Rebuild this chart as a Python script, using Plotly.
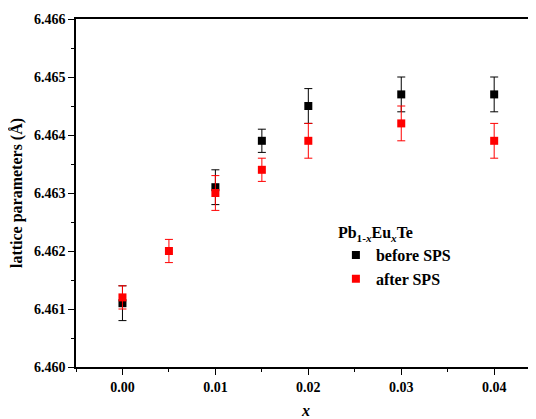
import plotly.graph_objects as go

# Composition x for each series
x_before = [0.000, 0.010, 0.015, 0.020, 0.030, 0.040]
a_before = [6.4611, 6.4631, 6.4639, 6.4645, 6.4647, 6.4647]
err_before = [0.0003, 0.0003, 0.0002, 0.0003, 0.0003, 0.0003]

x_after = [0.000, 0.005, 0.010, 0.015, 0.020, 0.030, 0.040]
a_after = [6.4612, 6.4620, 6.4630, 6.4634, 6.4639, 6.4642, 6.4639]
err_after = [0.0002, 0.0002, 0.0003, 0.0002, 0.0003, 0.0003, 0.0003]

y_ticks = [6.460, 6.461, 6.462, 6.463, 6.464, 6.465, 6.466]
x_ticks = [0.00, 0.01, 0.02, 0.03, 0.04]

FF = "Liberation Serif"

fig = go.Figure()
fig.add_trace(go.Scatter(
    x=x_before, y=a_before, mode="markers", name="<b>before SPS</b>",
    marker=dict(symbol="square", size=8, color="black"),
    error_y=dict(type="data", array=err_before, color="black", thickness=1, width=4),
))
fig.add_trace(go.Scatter(
    x=x_after, y=a_after, mode="markers", name="<b>after SPS</b>",
    marker=dict(symbol="square", size=8, color="red"),
    error_y=dict(type="data", array=err_after, color="red", thickness=1, width=4),
))

fig.update_layout(
    width=528, height=411,
    margin=dict(l=68, r=0, t=11, b=52),
    paper_bgcolor="white", plot_bgcolor="white",
    font=dict(family=FF, size=14, color="black"),
    showlegend=True,
    legend=dict(
        x=0.565, y=0.43, xanchor="left", yanchor="top",
        bgcolor="rgba(0,0,0,0)",
        font=dict(size=16, family=FF, color="black"),
        title=dict(text="<b>Pb<sub>1-<i>x</i></sub>Eu<sub><i>x</i></sub>Te</b>",
                   font=dict(size=16, family=FF, color="black")),
        itemwidth=30, tracegroupgap=2,
    ),
)
fig.update_xaxes(
    range=[-0.005, 0.0445],
    tickmode="array",
    tickvals=x_ticks,
    ticktext=[f"<b>{v:.2f}</b>" for v in x_ticks],
    ticks="outside", ticklen=6, tickwidth=1, tickcolor="black",
    minor=dict(ticks="outside", ticklen=3, dtick=0.005, tick0=0, tickcolor="black"),
    showline=True, linecolor="black", linewidth=1.5, mirror=True,
    showgrid=False, zeroline=False,
    tickfont=dict(size=14, family=FF),
    title=dict(text="<b><i>x</i></b>", font=dict(size=16, family=FF), standoff=12),
)
fig.update_yaxes(
    range=[6.460, 6.466],
    tickmode="array",
    tickvals=y_ticks,
    ticktext=[f"<b>{v:.3f}</b>" for v in y_ticks],
    ticks="outside", ticklen=6, tickwidth=1, tickcolor="black",
    minor=dict(ticks="outside", ticklen=3, dtick=0.0005, tickcolor="black"),
    showline=True, linecolor="black", linewidth=1.5, mirror=False,
    showgrid=False, zeroline=False,
    tickfont=dict(size=14, family=FF),
    title=dict(text="<b>lattice parameters (Å)</b>", font=dict(size=16, family=FF), standoff=8),
)

fig.write_html("out.html")
